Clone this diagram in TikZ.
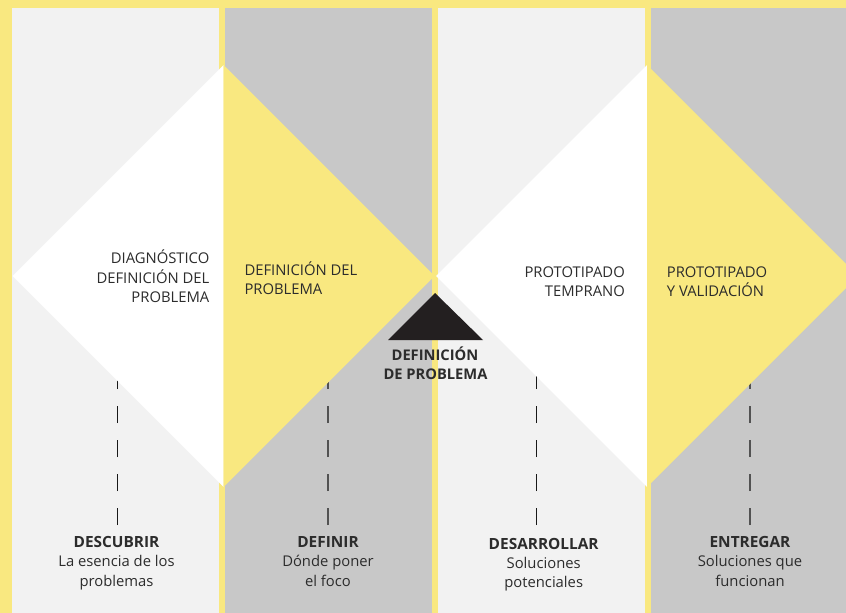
\documentclass[tikz,border=0pt]{standalone}
\usepackage{fontspec}
\setmainfont{Open Sans}
\definecolor{ylw}{HTML}{F9E880}
\definecolor{lgray}{HTML}{F2F2F2}
\definecolor{mgray}{HTML}{C8C8C8}
\definecolor{dark}{HTML}{231F20}
\definecolor{txt}{HTML}{2C2C2C}
\tikzset{
  lbl/.style={inner sep=0pt, text=txt, font=\fontsize{14.8}{19}\selectfont},
  blbl/.style={inner sep=0pt, text=txt, font=\fontsize{15.4}{19}\selectfont\bfseries},
  mlbl/.style={inner sep=0pt, text=txt, font=\fontsize{14.7}{19}\selectfont\bfseries},
  dline/.style={line width=1.3pt, dash pattern=on 17pt off 17pt},
}
\begin{document}
\begin{tikzpicture}[x=1pt,y=-1pt]
\useasboundingbox (0,0) rectangle (846,613);
\clip (0,0) rectangle (846,613);
% background
\fill[ylw] (0,0) rectangle (846,613);
\fill[lgray] (12,8) rectangle (219,613);
\fill[mgray] (225,8) rectangle (432,613);
\fill[lgray] (438,8) rectangle (645,613);
\fill[mgray] (651,8) rectangle (846,613);
% dashed lines
\coordinate (t1) at (117.5,340); \coordinate (b1) at (117.5,525);
\coordinate (t2) at (328,340); \coordinate (b2) at (328,525);
\coordinate (t3) at (536.5,340); \coordinate (b3) at (536.5,525);
\coordinate (t4) at (750,340); \coordinate (b4) at (750,525);
\draw[dline, draw=black!90] (b1) -- (t1);
\draw[dline, draw=black!68] (b2) -- (t2);
\draw[dline, draw=black!90] (b3) -- (t3);
\draw[dline, draw=black!68] (b4) -- (t4);
% diamond 1
\fill[white] (12.7,276) -- (223.7,65) -- (223.7,487) -- cycle;
\fill[ylw] (223.7,65) -- (434.7,276) -- (223.7,487) -- cycle;
% diamond 2
\fill[white] (436,276) -- (647,65) -- (647,487) -- cycle;
\fill[ylw] (647,65) -- (858,276) -- (647,487) -- cycle;
% black triangle
\fill[dark] (435,293) -- (483,340) -- (388,340) -- cycle;
% diamond labels
\node[lbl, anchor=base east] (d1a) at (209.5,263.3) {DIAGNÓSTICO};
\node[lbl, anchor=base east] (d1b) at (209.5,283.3) {DEFINICIÓN DEL};
\node[lbl, anchor=base east] (d1c) at (209.5,302.3) {PROBLEMA};
\node[lbl, anchor=base west] (d2a) at (244.3,275) {DEFINICIÓN DEL};
\node[lbl, anchor=base west] (d2b) at (244.3,294) {PROBLEMA};
\node[lbl, anchor=base east] (d3a) at (625,277.3) {PROTOTIPADO};
\node[lbl, anchor=base east] (d3b) at (625,296) {TEMPRANO};
\node[lbl, anchor=base west] (d4a) at (666.7,277.3) {PROTOTIPADO};
\node[lbl, anchor=base west] (d4b) at (666.7,296) {Y VALIDACIÓN};
% middle label
\node[mlbl, anchor=base] (m1) at (435,360) {DEFINICIÓN};
\node[mlbl, anchor=base] (m2) at (435.5,379) {DE PROBLEMA};
% bottom labels
\node[blbl, anchor=base] (l1) at (116.5,547.7) {DESCUBRIR};
\node[lbl, anchor=base] (l1b) at (116.5,566) {La esencia de los};
\node[lbl, anchor=base] (l1c) at (116.5,586) {problemas};
\node[blbl, anchor=base] (l2) at (328,547.7) {DEFINIR};
\node[lbl, anchor=base] (l2b) at (328,566) {Dónde poner};
\node[lbl, anchor=base] (l2c) at (328,586) {el foco};
\node[blbl, anchor=base] (l3) at (543.7,549) {DESARROLLAR};
\node[lbl, anchor=base] (l3b) at (543.7,568) {Soluciones};
\node[lbl, anchor=base] (l3c) at (543.7,587) {potenciales};
\node[blbl, anchor=base] (l4) at (750,547.7) {ENTREGAR};
\node[lbl, anchor=base] (l4b) at (750,566) {Soluciones que};
\node[lbl, anchor=base] (l4c) at (750,586) {funcionan};
\end{tikzpicture}
\end{document}
